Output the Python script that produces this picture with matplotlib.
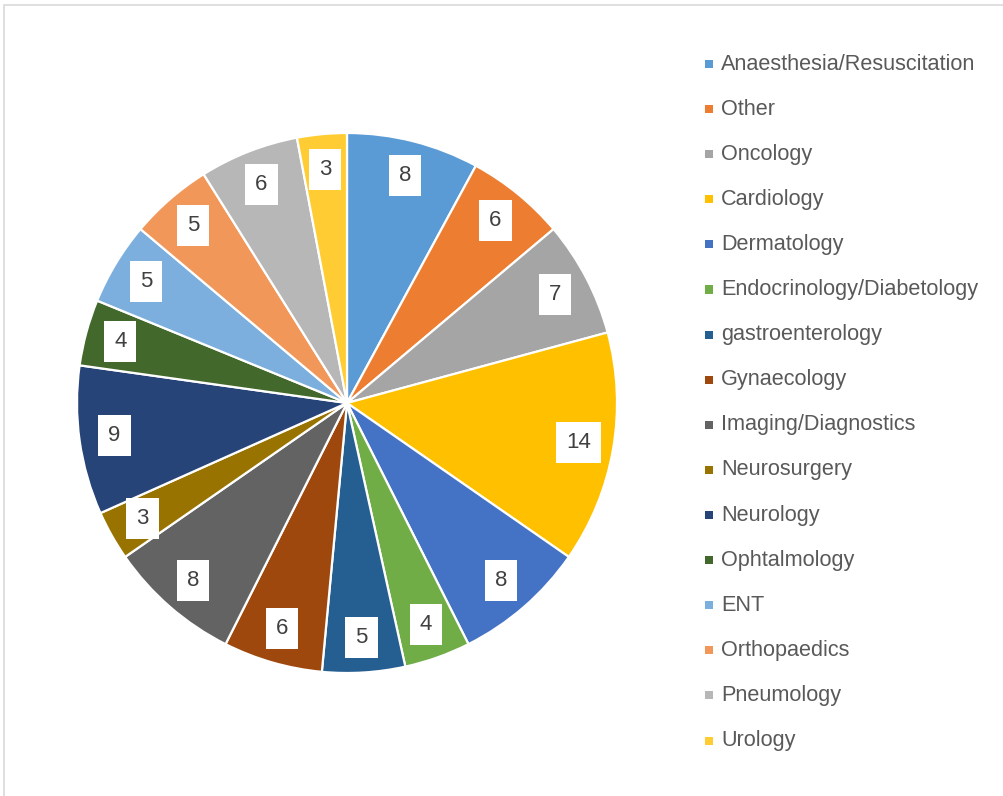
import matplotlib.pyplot as plt
from matplotlib.patches import Rectangle
import numpy as np

categories = ['Anaesthesia/Resuscitation', 'Other', 'Oncology', 'Cardiology',
              'Dermatology', 'Endocrinology/Diabetology', 'gastroenterology',
              'Gynaecology', 'Imaging/Diagnostics', 'Neurosurgery', 'Neurology',
              'Ophtalmology', 'ENT', 'Orthopaedics', 'Pneumology', 'Urology']
values = [8, 6, 7, 14, 8, 4, 5, 6, 8, 3, 9, 4, 5, 5, 6, 3]
colors = ['#5B9BD5', '#ED7D31', '#A5A5A5', '#FFC000', '#4472C4', '#70AD47',
          '#255E91', '#9E480E', '#636363', '#997300', '#264478', '#43682B',
          '#7CAFDD', '#F1975A', '#B7B7B7', '#FFCD33']

plt.rcParams['font.family'] = ['Liberation Sans', 'DejaVu Sans']

W, H = 1004, 796
fig = plt.figure(figsize=(W / 100, H / 100), dpi=100)

# outer chart border (only top/left visible in the crop)
fig.patches.append(Rectangle((4 / W, -0.1), 1.2, 1.1 - 5 / H, transform=fig.transFigure,
                             fill=False, edgecolor='#D9D9D9', linewidth=1.2))

cx, cy, r = 347, 403, 270
ax = fig.add_axes([(cx - r) / W, (H - cy - r) / H, 2 * r / W, 2 * r / H])
wedges, texts = ax.pie(values, colors=colors, startangle=90, counterclock=False,
                       radius=1.0, labels=[str(v) for v in values], labeldistance=0.87,
                       wedgeprops=dict(edgecolor='white', linewidth=1.6))
for t in texts:
    t.set_ha('center')
    t.set_va('center')
    t.set_fontsize(16)
    t.set_color('#404040')
    t.set_bbox(dict(facecolor='white', edgecolor='none', boxstyle='square,pad=0.45'))
ax.set_xlim(-1, 1)
ax.set_ylim(-1, 1)
ax.set_aspect('equal')
ax.axis('off')

# legend
y0, dy = 64, 45.1
for i, (name, c) in enumerate(zip(categories, colors)):
    y = y0 + i * dy
    fig.patches.append(Rectangle((705 / W, (H - y - 4) / H), 8 / W, 8 / H,
                                 transform=fig.transFigure, facecolor=c, edgecolor='none'))
    fig.text(721 / W, (H - y) / H, name, fontsize=15.6, color='#595959', va='center', ha='left')

fig.savefig('out.png', dpi=100)
